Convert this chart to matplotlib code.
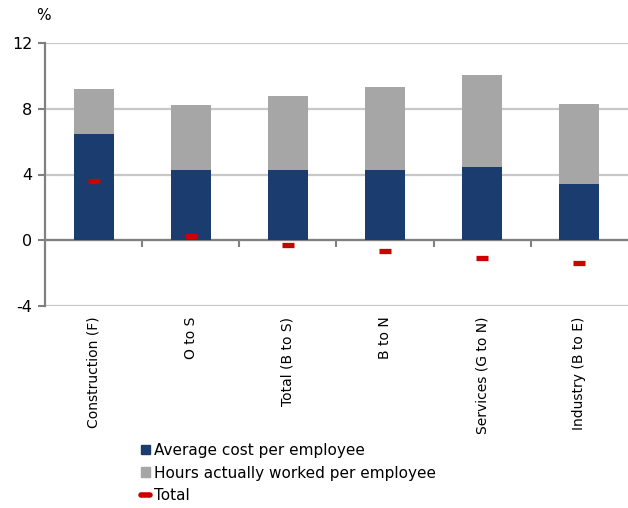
import numpy as np
import matplotlib
matplotlib.use("Agg")
import matplotlib.pyplot as plt
from matplotlib.lines import Line2D
from matplotlib.patches import Patch

categories = ["Construction (F)", "O to S", "Total (B to S)", "B to N",
              "Services (G to N)", "Industry (B to E)"]
avg_cost = [6.45, 4.25, 4.3, 4.3, 4.46, 3.43]
hours_worked = [2.75, 3.95, 4.5, 5.05, 5.59, 4.85]
total = [3.6, 0.25, -0.3, -0.65, -1.1, -1.38]

blue = "#1a3c6e"
grey = "#a6a6a6"
red = "#cc0000"

plt.rcParams["font.family"] = "DejaVu Sans"
plt.rcParams["axes.unicode_minus"] = False

fig = plt.figure(figsize=(6.28, 5.08), dpi=100)
ax = fig.add_axes([45 / 628, 1 - 306 / 508, 1 - 45 / 628, (306 - 43) / 508])

x = np.arange(len(categories))
ax.bar(x, avg_cost, width=0.41, color=blue, zorder=3)
ax.bar(x, hours_worked, width=0.41, bottom=avg_cost, color=grey, zorder=3)
ax.plot(x, total, linestyle="none", marker="_", markersize=8,
        markeredgewidth=3.8, color=red, zorder=4)

ax.set_xlim(-0.5, len(categories) - 0.5)
ax.set_ylim(-4, 12)
ax.set_yticks([-4, 0, 4, 8, 12])
ax.yaxis.grid(True, color="#c8c8c8", linewidth=1.6, zorder=0)
ax.tick_params(axis="y", labelsize=11.5, length=5, color="#808080", width=1.5, pad=4)

# category axis sits on zero, ticks between groups
for s in ["top", "right"]:
    ax.spines[s].set_visible(False)
ax.spines["bottom"].set_position(("data", 0))
ax.spines["bottom"].set_color("#808080")
ax.spines["bottom"].set_linewidth(1.6)
ax.spines["left"].set_color("#808080")
ax.spines["left"].set_linewidth(1.6)
ax.set_xticks(x)
ax.set_xticklabels(categories, rotation=90, fontsize=10)
ax.set_xticks(x[:-1] + 0.5, minor=True)
ax.tick_params(axis="x", which="major", length=0, pad=55)
ax.tick_params(axis="x", which="minor", length=5, width=1.5, color="#808080", direction="out")

fig.text(36 / 628, 1 - 15 / 508, "%", fontsize=11, va="center")

handles = [Patch(color=blue, label="Average cost per employee"),
           Patch(color=grey, label="Hours actually worked per employee"),
           Line2D([], [], color=red, linewidth=4, solid_capstyle="round",
                  label="Total")]
fig.legend(handles=handles, loc="upper left", bbox_to_anchor=(141 / 628, 1 - 443 / 508),
           frameon=False, fontsize=11, handlelength=0.6, handleheight=0.6,
           handletextpad=0.25, labelspacing=0.5, borderaxespad=0, borderpad=0)

fig.savefig("out.png", dpi=100)
